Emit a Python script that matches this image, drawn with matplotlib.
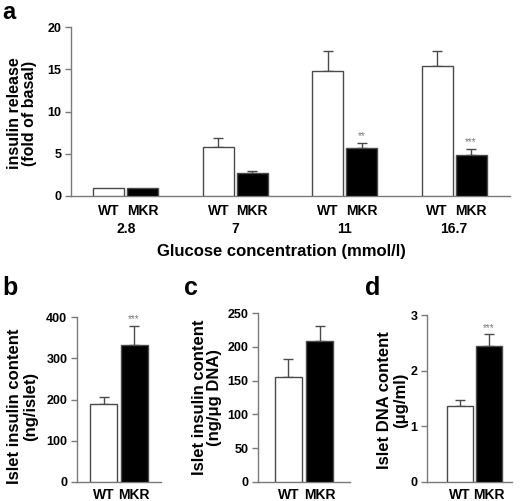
import numpy as np
import matplotlib
matplotlib.use("Agg")
import matplotlib.pyplot as plt

plt.rcParams['font.family'] = ['Liberation Sans', 'DejaVu Sans']
plt.rcParams['font.weight'] = 'bold'

# (0) data
glucose    = ['2.8', '7', '11', '16.7']
wt_rel     = [1.0, 5.8, 14.8, 15.4]
wt_rel_se  = [0.0, 1.1, 2.4, 1.8]
mkr_rel    = [1.0, 2.7, 5.7, 4.9]
mkr_rel_se = [0.0, 0.2, 0.6, 0.7]
rel_stars  = ['', '', '**', '***']

groups     = ['WT', 'MKR']
ins_islet  = [190, 333]
ins_islet_se = [15, 45]
ins_dna    = [155, 208]
ins_dna_se = [27, 23]
dna        = [1.37, 2.45]
dna_se     = [0.11, 0.20]
b_stars    = ['', '***']
c_stars    = ['', '']
d_stars    = ['', '***']

GREY  = '#7a7a7a'
EDGE  = '#4a4a4a'
W, H  = 520, 501


def style(ax, ylim, yticks):
    for s in ['top', 'right']:
        ax.spines[s].set_visible(False)
    for s in ['left', 'bottom']:
        ax.spines[s].set_color(GREY)
        ax.spines[s].set_linewidth(1.0)
    ax.set_ylim(*ylim)
    ax.set_yticks(yticks)
    ax.tick_params(axis='y', length=4, width=1, color=GREY, labelsize=9, pad=3)
    ax.tick_params(axis='x', which='both', length=0, labelsize=10)


def bars(ax, x, vals, errs, stars, width, ymax):
    colors = ['white', 'black']
    for i in range(len(vals)):
        c = colors[i % 2]
        ax.bar(x[i], vals[i], width, color=c, edgecolor=EDGE, linewidth=1.0, zorder=3)
        if errs[i] > 0:
            ax.errorbar(x[i], vals[i], yerr=[[0], [errs[i]]], fmt='none', ecolor=EDGE,
                        elinewidth=1.0, capsize=3.5, capthick=1.0, zorder=2)
        if stars[i]:
            ax.text(x[i], vals[i] + errs[i] + ymax * 0.01, stars[i], ha='center', va='bottom',
                    fontsize=7, color=GREY, fontweight='normal')


def axes_px(l, r, t, b):
    return [l / W, 1 - b / H, (r - l) / W, (b - t) / H]


fig = plt.figure(figsize=(5.2, 5.01), dpi=100)

#(1) panel a: insulin release
ax = fig.add_axes(axes_px(71, 510, 27, 196))
pos = np.arange(len(glucose))
off = 0.155
bw  = 0.283
xs_wt  = pos - off
xs_mkr = pos + off
for i in range(len(glucose)):
    bars(ax, [xs_wt[i], xs_mkr[i]], [wt_rel[i], mkr_rel[i]],
         [wt_rel_se[i], mkr_rel_se[i]], ['', rel_stars[i]], bw, 20)
style(ax, (0, 20), [0, 5, 10, 15, 20])
ax.set_xlim(-0.5, 3.51)
ax.set_xticks(np.concatenate([xs_wt, xs_mkr]))
ax.set_xticklabels(['WT'] * 4 + ['MKR'] * 4)
ax.set_xticks(pos, minor=True)
ax.set_xticklabels(glucose, minor=True)
ax.tick_params(axis='x', which='major', pad=6)
ax.tick_params(axis='x', which='minor', pad=19, labelsize=10)
ax.set_ylabel('insulin release\n(fold of basal)', fontsize=11.5, fontweight='bold', linespacing=1.05)
ax.yaxis.set_label_coords(-0.077, 0.49)
ax.set_xlabel('Glucose concentration (mmol/l)', fontsize=12, fontweight='bold')
ax.xaxis.set_label_coords(0.48, -0.283)

#(2) lower panels
lower = [
    (axes_px(77, 161, 317, 482), ins_islet, ins_islet_se, b_stars, (0, 400), [0, 100, 200, 300, 400],
     (-0.87, 1.885), 0.885, 'Islet insulin content\n(ng/islet)', (-0.464, 0.46)),
    (axes_px(258, 350, 313, 482), ins_dna, ins_dna_se, c_stars, (0, 250), [0, 50, 100, 150, 200, 250],
     (-0.98, 1.98), 0.87, 'Islet insulin content\n(ng/\u03bcg DNA)', (-0.39, 0.5)),
    (axes_px(427, 512, 315, 482), dna, dna_se, d_stars, (0, 3), [0, 1, 2, 3],
     (-1.14, 1.79), 0.9, 'Islet DNA content\n(\u03bcg/ml)', (-0.224, 0.49)),
]
for rect, vals, errs, stars, ylim, yt, xlim, bw2, lab, lc in lower:
    ax = fig.add_axes(rect)
    bars(ax, [0, 1], vals, errs, stars, bw2, ylim[1])
    style(ax, ylim, yt)
    ax.set_xlim(*xlim)
    ax.set_xticks([0, 1])
    ax.set_xticklabels(groups)
    ax.tick_params(axis='x', pad=4)
    ax.set_ylabel(lab, fontsize=12, fontweight='bold', linespacing=1.05)
    ax.yaxis.set_label_coords(*lc)

#(3) panel letters
fig.text(2 / W, 1 - 1 / H, 'a', fontsize=17, fontweight='bold', va='top', ha='left')
for x, y, s in [(2, 295, 'b'), (184, 295, 'c'), (365, 295, 'd')]:
    fig.text(x / W, 1 - y / H, s, fontsize=18, fontweight='bold', va='baseline', ha='left')

fig.savefig('out.png', dpi=100)
